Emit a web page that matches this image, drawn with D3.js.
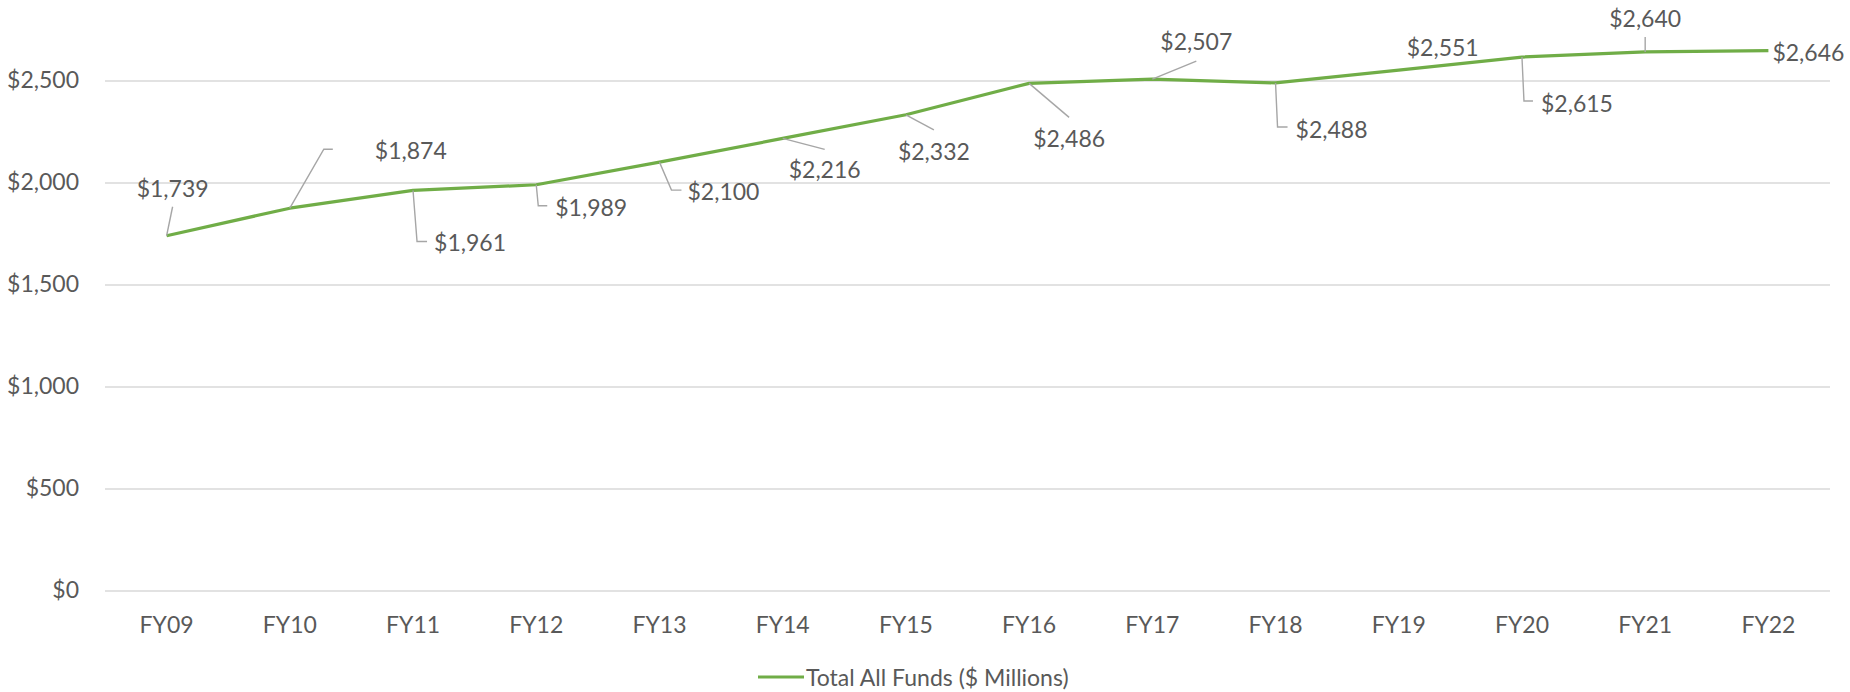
<!DOCTYPE html>
<html>
<head>
<meta charset="utf-8">
<script src="https://cdn.jsdelivr.net/npm/d3@7"></script>
<style>
  body { margin: 0; background: #fff; }
  text { font-family: Lato, "Open Sans", sans-serif; fill: #595959; }
</style>
</head>
<body>
<div id="chart"></div>
<script>
// data
var years = ["FY09", "FY10", "FY11", "FY12", "FY13", "FY14", "FY15",
             "FY16", "FY17", "FY18", "FY19", "FY20", "FY21", "FY22"];
var totalFunds = [1739, 1874, 1961, 1989, 2100, 2216, 2332,
                  2486, 2507, 2488, 2551, 2615, 2640, 2646];
var yTicks = [0, 500, 1000, 1500, 2000, 2500];
var seriesName = "Total All Funds ($ Millions)";

// where each data label sits relative to its point, plus its leader line
var labelPlacement = [
  {dx: 6,   dy: -48, leader: [[6, -29]]},
  {dx: 121, dy: -58, leader: [[34, -59], [43, -59]]},
  {dx: 57,  dy: 52,  leader: [[4, 51], [14, 51]]},
  {dx: 55,  dy: 22,  leader: [[2, 21], [11, 21]]},
  {dx: 64,  dy: 29,  leader: [[12, 28], [22, 28]]},
  {dx: 42,  dy: 31,  leader: [[42, 11]]},
  {dx: 28,  dy: 36,  leader: [[28, 15]]},
  {dx: 40,  dy: 55,  leader: [[40, 34]]},
  {dx: 44,  dy: -38, leader: [[44, -18]]},
  {dx: 56,  dy: 46,  leader: [[2, 44], [12, 44]]},
  {dx: 44,  dy: -23, leader: null},
  {dx: 55,  dy: 46,  leader: [[2, 44], [11, 44]]},
  {dx: 0,   dy: -34, leader: [[0, -15]]},
  {dx: 40,  dy: 1,   leader: null}
];

var W = 1850, H = 692;
var plotLeft = 105, plotRight = 1830, plotTop = 80.5, plotBottom = 590.5;
var fontSize = 23;
var fmt = function(v) { return "$" + d3.format(",")(v); };

var svg = d3.select("#chart").append("svg")
    .attr("width", W)
    .attr("height", H);

var x = d3.scaleBand()
    .domain(years)
    .range([plotLeft, plotRight])
    .padding(0);

var y = d3.scaleLinear()
    .domain([0, 2500])
    .range([plotBottom, plotTop]);

// gridlines + y labels
var yAxis = svg.append("g")
    .attr("transform", "translate(" + plotLeft + ",0)")
    .call(d3.axisLeft(y).tickValues(yTicks).tickFormat(fmt)
        .tickSize(-(plotRight - plotLeft)).tickPadding(26));
yAxis.select(".domain").remove();
yAxis.selectAll("line").attr("stroke", "#d9d9d9").attr("stroke-width", 1.3);
yAxis.selectAll("text").attr("font-size", fontSize).style("fill", "#595959")
    .attr("font-family", "Lato, sans-serif");

// x labels
var xAxis = svg.append("g")
    .attr("transform", "translate(0," + plotBottom + ")")
    .call(d3.axisBottom(x).tickSize(0).tickPadding(26));
xAxis.select(".domain").remove();
xAxis.selectAll("text").attr("font-size", fontSize).style("fill", "#595959")
    .attr("font-family", "Lato, sans-serif");

// the series line
var line = d3.line()
    .x(function(d, i) { return x(years[i]) + x.bandwidth() / 2; })
    .y(function(d) { return y(d); });

svg.append("path")
    .datum(totalFunds)
    .attr("fill", "none")
    .attr("stroke", "#70ad47")
    .attr("stroke-width", 3.2)
    .attr("stroke-linejoin", "round")
    .attr("d", line);

// leader lines and data labels
totalFunds.forEach(function(v, i) {
    var px = x(years[i]) + x.bandwidth() / 2;
    var py = y(v);
    var p = labelPlacement[i];
    if (p.leader) {
        var pts = [[px, py]].concat(p.leader.map(function(o) { return [px + o[0], py + o[1]]; }));
        svg.append("path")
            .attr("d", d3.line()(pts))
            .attr("fill", "none")
            .attr("stroke", "#a6a6a6")
            .attr("stroke-width", 1.4);
    }
    svg.append("text")
        .attr("x", px + p.dx)
        .attr("y", py + p.dy)
        .attr("text-anchor", "middle")
        .attr("dominant-baseline", "central")
        .attr("font-size", fontSize)
        .text(fmt(v));
});

// legend
var legend = svg.append("g");
legend.append("line")
    .attr("x1", 758).attr("x2", 804)
    .attr("y1", 677).attr("y2", 677)
    .attr("stroke", "#70ad47")
    .attr("stroke-width", 3.2);
legend.append("text")
    .attr("x", 806)
    .attr("y", 677)
    .attr("dominant-baseline", "central")
    .attr("font-size", fontSize)
    .text(seriesName);
</script>
</body>
</html>
